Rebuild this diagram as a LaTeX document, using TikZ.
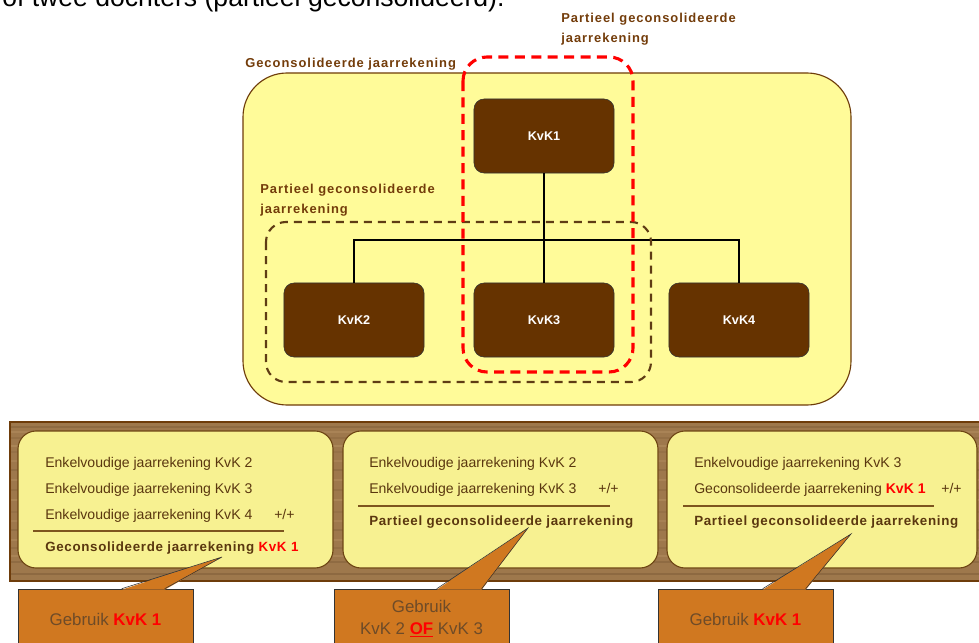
\documentclass[tikz,border=0pt]{standalone}
\usepackage{fontspec}
\setmainfont{Liberation Sans}
\newfontfamily\labelfont[LetterSpace=7.5]{Liberation Sans}
\newfontfamily\sumfont[LetterSpace=5]{Liberation Sans}
\usepackage{xcolor}
\usepackage{tikz}
\usetikzlibrary{positioning,calc}

\definecolor{groupyellow}{RGB}{255,251,153}
\definecolor{grouplinec}{RGB}{110,60,10}
\definecolor{kvkbrown}{RGB}{102,51,0}
\definecolor{labelbrown}{RGB}{115,60,10}
\definecolor{dashbrown}{RGB}{95,60,20}
\definecolor{dashred}{RGB}{255,0,0}
\definecolor{woodbrown}{RGB}{158,120,76}
\definecolor{woodgrain}{RGB}{110,78,45}
\definecolor{woodlight}{RGB}{195,158,110}
\definecolor{panelyellow}{RGB}{247,241,145}
\definecolor{panelline}{RGB}{110,70,20}
\definecolor{paneltextc}{RGB}{90,55,15}
\definecolor{rulebrown}{RGB}{125,85,30}
\definecolor{calloutorange}{RGB}{208,120,32}
\definecolor{callouttext}{RGB}{110,75,40}

\begin{document}
\begin{tikzpicture}[x=0.025cm, y=-0.025cm,
  kvkbox/.style={draw=black!80, fill=kvkbrown, rounded corners=0.25cm, minimum width=3.5cm, minimum height=1.85cm, text=white, font=\bfseries\fontsize{9}{11}\selectfont},
  grouplabel/.style={anchor=north west, align=left, inner sep=0pt, text=labelbrown, font=\labelfont\bfseries\fontsize{9.2}{14}\selectfont},
  panel/.style={draw=panelline, fill=panelyellow, line width=0.8pt, rounded corners=0.45cm},
  paneltext/.style={anchor=base west, inner sep=0pt, text=paneltextc, font=\fontsize{10}{11}\selectfont},
  panelbold/.style={paneltext, font=\sumfont\bfseries\fontsize{9.5}{11}\selectfont},
  panelrule/.style={draw=rulebrown, line width=1.2pt},
  usebox/.style={draw=black!80, fill=calloutorange, minimum width=4.375cm, minimum height=1.5cm, align=center, text=callouttext, font=\fontsize{12}{15.5}\selectfont}
]

\useasboundingbox (0,0) rectangle (979,643);
\clip (0,0) rectangle (979,643);

% Intro line (cut off at the top)
\node[anchor=base west, inner sep=0pt, font=\fontsize{18.9}{20}\selectfont] (intro) at (2,7) {of twee dochters (partieel geconsolideerd).};

% Group background
\draw[fill=groupyellow, draw=grouplinec, line width=0.8pt, rounded corners=1.1cm] (243,73) rectangle (851,405);
\node[grouplabel, anchor=base west] (lblgroup) at (245,68) {Geconsolideerde jaarrekening};

% Partial groups
\node[grouplabel] (lblpart1) at (561,13) {Partieel geconsolideerde\\jaarrekening};
\node[grouplabel] (lblpart2) at (260,184) {Partieel geconsolideerde\\jaarrekening};

% Companies
\node[kvkbox] (kvk1) at (544,136) {KvK1};
\node[kvkbox] (kvk2) at (354,320) {KvK2};
\node[kvkbox] (kvk3) at (544,320) {KvK3};
\node[kvkbox] (kvk4) at (739,320) {KvK4};

% Connectors
\coordinate (split) at (544,240);
\draw[thick] (kvk1.south) -- (split);
\draw[thick] (kvk2.north) |- (split) -| (kvk4.north);
\draw[thick] (split) -- (kvk3.north);

% Dashed frames
\draw[dashbrown, line width=1.5pt, dash pattern=on 0.2cm off 0.15cm, rounded corners=0.5cm] (266,222) rectangle (651,382);
\draw[dashred, line width=2.2pt, dash pattern=on 0.25cm off 0.16cm, rounded corners=0.6cm] (463,57) rectangle (633,372);

% Wooden board
\fill[woodbrown] (10,422) rectangle (990,581);
\foreach \gy/\gop in {427/0.3,438/0.2,452/0.15,470/0.25,490/0.2,512/0.15,530/0.25,548/0.2,562/0.3,574/0.35}
  \draw[woodgrain, opacity=\gop, line width=2pt] (10,\gy) -- (990,\gy);
\foreach \gy/\gop in {432/0.3,446/0.35,461/0.25,480/0.3,500/0.35,521/0.25,540/0.3,556/0.3}
  \draw[woodlight, opacity=\gop, line width=1.5pt] (10,\gy) -- (990,\gy);
\draw[grouplinec, line width=1.2pt] (10,422) rectangle (990,581);

% Panels
\draw[panel] (18,431) rectangle (333,568);
\draw[panel] (343,431) rectangle (658,568);
\draw[panel] (667,431) rectangle (977,568);

% Panel 1
\node[paneltext] (p1a) at (45,467) {Enkelvoudige jaarrekening KvK 2};
\node[paneltext] (p1b) at (45,493) {Enkelvoudige jaarrekening KvK 3};
\node[paneltext] (p1c) at (45,519) {Enkelvoudige jaarrekening KvK 4};
\node[paneltext] (p1plus) at (274,519) {+/+};
\draw[panelrule] (33,531) -- (284,531);
\node[panelbold] (p1sum) at (45,551) {Geconsolideerde jaarrekening \textcolor{red}{KvK 1}};

% Panel 2
\node[paneltext] (p2a) at (369,467) {Enkelvoudige jaarrekening KvK 2};
\node[paneltext] (p2b) at (369,493) {Enkelvoudige jaarrekening KvK 3};
\node[paneltext] (p2plus) at (598,493) {+/+};
\draw[panelrule] (358,506) -- (610,506);
\node[panelbold] (p2sum) at (369,525) {Partieel geconsolideerde jaarrekening};

% Panel 3
\node[paneltext] (p3a) at (694,467) {Enkelvoudige jaarrekening KvK 3};
\node[paneltext] (p3b) at (694,493) {Geconsolideerde jaarrekening \textbf{\textcolor{red}{KvK 1}}};
\node[paneltext] (p3plus) at (941,493) {+/+};
\draw[panelrule] (683,506) -- (934,506);
\node[panelbold] (p3sum) at (694,525) {Partieel geconsolideerde jaarrekening};

% Callouts
\node[usebox] (use1) at (105.5,619) {Gebruik \textbf{\textcolor{red}{KvK 1}}};
\node[usebox] (use2) at (421.5,619) {Gebruik\\KvK 2 \textbf{\textcolor{red}{\underline{OF}}} KvK 3};
\node[usebox] (use3) at (745.5,619) {Gebruik \textbf{\textcolor{red}{KvK 1}}};

\coordinate (tip1) at (222,557);
\coordinate (tip2) at (528,528);
\coordinate (tip3) at (851,534);

\foreach \i/\pa/\pb in {1/104/147, 2/103/148, 3/105/148} {
  \fill[calloutorange] ($(use\i.north west)+(\pa,1)$) -- (tip\i) -- ($(use\i.north west)+(\pb,1)$) -- cycle;
  \draw[black!80, thin] ($(use\i.north west)+(\pa,0)$) -- (tip\i) -- ($(use\i.north west)+(\pb,0)$);
}

\end{tikzpicture}
\end{document}
